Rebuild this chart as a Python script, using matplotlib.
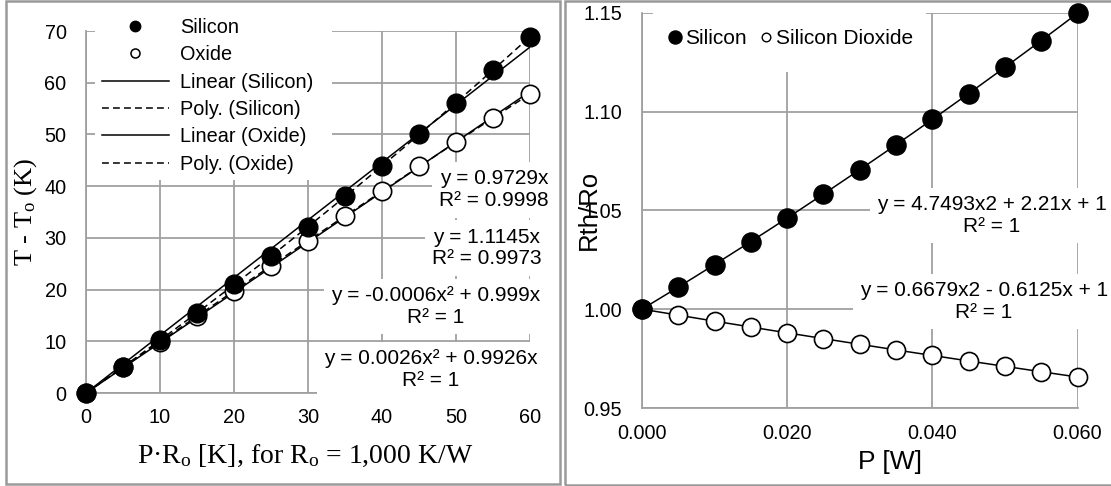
import numpy as np
import matplotlib
matplotlib.use('Agg')
import matplotlib.pyplot as plt
from matplotlib.lines import Line2D
from matplotlib.patches import Rectangle

plt.rcParams['font.family'] = ['Liberation Sans', 'DejaVu Sans']
plt.rcParams['mathtext.fontset'] = 'custom'
plt.rcParams['mathtext.rm'] = 'Liberation Serif'
plt.rcParams['mathtext.it'] = 'Liberation Serif:italic'

# left chart: temperature rise vs P*Ro
pr = [0, 5, 10, 15, 20, 25, 30, 35, 40, 45, 50, 55, 60]
si_dt = [0, 5.0, 10.2, 15.5, 21.0, 26.5, 32.1, 38.0, 43.9, 50.0, 56.1, 62.5, 68.9]
ox_dt = [0, 5.0, 9.9, 14.8, 19.7, 24.6, 29.4, 34.3, 39.0, 43.8, 48.5, 53.2, 57.8]
left_labels = ['Silicon', 'Oxide', 'Linear (Silicon)', 'Poly. (Silicon)',
               'Linear (Oxide)', 'Poly. (Oxide)']
left_eqs = ['y = 0.9729x\nR² = 0.9998',
            'y = 1.1145x\nR² = 0.9973',
            'y = -0.0006x² + 0.999x\nR² = 1',
            'y = 0.0026x² + 0.9926x\nR² = 1']

# right chart: Rth/Ro vs P
p_w = [0, 0.005, 0.010, 0.015, 0.020, 0.025, 0.030, 0.035, 0.040, 0.045, 0.050, 0.055, 0.060]
si_r = [1.0000, 1.0112, 1.0226, 1.0342, 1.0461, 1.0582, 1.0706, 1.0832, 1.0960, 1.1091, 1.1224, 1.1359, 1.1497]
ox_r = [1.0000, 0.9970, 0.9939, 0.9910, 0.9880, 0.9851, 0.9822, 0.9794, 0.9766, 0.9738, 0.9711, 0.9683, 0.9657]
right_labels = ['Silicon', 'Silicon Dioxide']
right_eqs = ['y = 4.7493x2 + 2.21x + 1\nR² = 1',
             'y = 0.6679x2 - 0.6125x + 1\nR² = 1']

W, H = 1111, 486
GRID = '#a0a0a0'

fig = plt.figure(figsize=(W / 100, H / 100), dpi=100)

def figpos(x, y):
    return x / W, 1 - y / H

def style(ax):
    ax.set_axisbelow(True)
    ax.grid(True, color=GRID, lw=1.3)
    for s in ['top', 'right']:
        ax.spines[s].set_visible(False)
    for s in ['left', 'bottom']:
        ax.spines[s].set_color(GRID)
        ax.spines[s].set_linewidth(1.3)
    ax.tick_params(length=0, labelsize=14.3)

# ---------------- left ----------------
ax1 = fig.add_axes([86 / W, 1 - 393 / H, 444 / W, 362 / H])
style(ax1)
ax1.set_xlim(0, 60)
ax1.set_ylim(0, 70)
ax1.set_xticks(range(0, 61, 10))
ax1.set_yticks(range(0, 71, 10))
ax1.tick_params(axis='x', pad=11)
ax1.tick_params(axis='y', pad=14)

x = np.array(pr, dtype=float)
xs = np.linspace(0, 60, 200)
# trendlines forced through the origin, like Excel
k_si = np.sum(x * np.array(si_dt)) / np.sum(x * x)
k_ox = np.sum(x * np.array(ox_dt)) / np.sum(x * x)
A = np.column_stack([x ** 2, x])
q_si = np.linalg.lstsq(A, np.array(si_dt), rcond=None)[0]
q_ox = np.linalg.lstsq(A, np.array(ox_dt), rcond=None)[0]

dash = (0, (4.5, 2.7))
ax1.plot(xs, k_si * xs, color='k', lw=1.1, zorder=4)
ax1.plot(xs, q_si[0] * xs ** 2 + q_si[1] * xs, color='k', lw=1.1, ls=dash, zorder=4)
ax1.plot(xs, k_ox * xs, color='k', lw=1.1, zorder=4)
ax1.plot(xs, q_ox[0] * xs ** 2 + q_ox[1] * xs, color='k', lw=1.1, ls=dash, zorder=4)
ax1.plot(pr, ox_dt, ls='none', marker='o', ms=13.2, mfc='white', mec='k', mew=1.2,
         zorder=5, clip_on=False)
ax1.plot(pr, si_dt, ls='none', marker='o', ms=13.5, mfc='k', mec='k',
         zorder=6, clip_on=False)

# white area behind the legend
ax1.add_patch(Rectangle((0.02, 0.588), 0.534, 0.45, transform=ax1.transAxes,
                        fc='white', ec='none', zorder=1, clip_on=False))
handles = [Line2D([], [], ls='none', marker='o', ms=7.5, mfc='k', mec='k'),
           Line2D([], [], ls='none', marker='o', ms=6.5, mfc='white', mec='k', mew=1.1),
           Line2D([], [], color='k', lw=1.1),
           Line2D([], [], color='k', lw=1.1, ls=dash),
           Line2D([], [], color='k', lw=1.1),
           Line2D([], [], color='k', lw=1.1, ls=dash)]
ax1.legend(handles, left_labels, loc='upper left', bbox_to_anchor=figpos(102, 18),
           bbox_transform=fig.transFigure, frameon=False, borderpad=0, borderaxespad=0,
           handlelength=3.35, handletextpad=0.57, labelspacing=0.42, fontsize=14.3)

box = dict(boxstyle='square,pad=0.35', fc='white', ec='none')
for txt, (tx, ty) in zip(left_eqs, [(494, 190), (487, 248), (436, 306.5), (431, 370)]):
    ax1.text(*figpos(tx, ty), txt, transform=fig.transFigure, ha='center', va='center',
             multialignment='center', fontsize=15, bbox=box, zorder=3)

ax1.set_xlabel(r'P·$\mathrm{R_o}$ [K], for $\mathrm{R_o}$ = 1,000 K/W',
               family='Liberation Serif', fontsize=20, va='center')
ax1.xaxis.set_label_coords(0.493, -0.174)
ax1.set_ylabel(r'T - $\mathrm{T_o}$ (K)', family='Liberation Serif', fontsize=19, va='center')
ax1.yaxis.set_label_coords(-0.135, 0.5)

# ---------------- right ----------------
ax2 = fig.add_axes([642 / W, 1 - 408 / H, 435.5 / W, 395.3 / H])
style(ax2)
ax2.set_xlim(0, 0.06)
ax2.set_ylim(0.95, 1.15)
ax2.set_xticks([0, 0.02, 0.04, 0.06])
ax2.set_yticks([0.95, 1.00, 1.05, 1.10, 1.15])
ax2.xaxis.set_major_formatter(matplotlib.ticker.FormatStrFormatter('%.3f'))
ax2.yaxis.set_major_formatter(matplotlib.ticker.FormatStrFormatter('%.2f'))
ax2.tick_params(axis='x', pad=11.5)
ax2.tick_params(axis='y', pad=14.4)

ps = np.linspace(0, 0.06, 200)
c_si = np.polyfit(p_w, si_r, 2)
c_ox = np.polyfit(p_w, ox_r, 2)
ax2.plot(ps, np.polyval(c_si, ps), color='k', lw=1.1, zorder=4)
ax2.plot(ps, np.polyval(c_ox, ps), color='k', lw=1.1, zorder=4)
ax2.plot(p_w, ox_r, ls='none', marker='o', ms=13, mfc='white', mec='k', mew=1.2,
         zorder=5, clip_on=False)
ax2.plot(p_w, si_r, ls='none', marker='o', ms=13.8, mfc='k', mec='k',
         zorder=6, clip_on=False)

ax2.add_patch(Rectangle((0.0253, 0.85), 0.627, 0.2, transform=ax2.transAxes,
                        fc='white', ec='none', zorder=1, clip_on=False))
handles2 = [Line2D([], [], ls='none', marker='o', ms=9.4, mfc='k', mec='k'),
            Line2D([], [], ls='none', marker='o', ms=6.2, mfc='white', mec='k', mew=1.0)]
ax2.legend(handles2, right_labels, loc='upper left', bbox_to_anchor=figpos(668, 29),
           bbox_transform=fig.transFigure, frameon=False, borderpad=0, borderaxespad=0,
           ncol=2, handlelength=0.67, handletextpad=0.15, columnspacing=0.58, fontsize=15)

for txt, (tx, ty) in zip(right_eqs, [(992, 215.5), (984, 301.5)]):
    ax2.text(*figpos(tx, ty), txt, transform=fig.transFigure, ha='center', va='center',
             multialignment='center', fontsize=15, bbox=box, zorder=3)

ax2.set_xlabel('P [W]', fontsize=19, va='center')
ax2.xaxis.set_label_coords(0.569, -0.137)
ax2.set_ylabel('Rth/Ro', fontsize=18.5, va='center')
ax2.yaxis.set_label_coords(-0.1217, 0.5)

# panel borders
fig.patches.append(Rectangle((6 / W, 1 - 484 / H), 554 / W, 482.5 / H, transform=fig.transFigure,
                             fill=False, ec='#9a9a9a', lw=1.8))
fig.patches.append(Rectangle((565 / W, 1 - 485 / H), 560 / W, 483.5 / H, transform=fig.transFigure,
                             fill=False, ec='#9a9a9a', lw=1.8))

fig.savefig('out.png', dpi=100)
